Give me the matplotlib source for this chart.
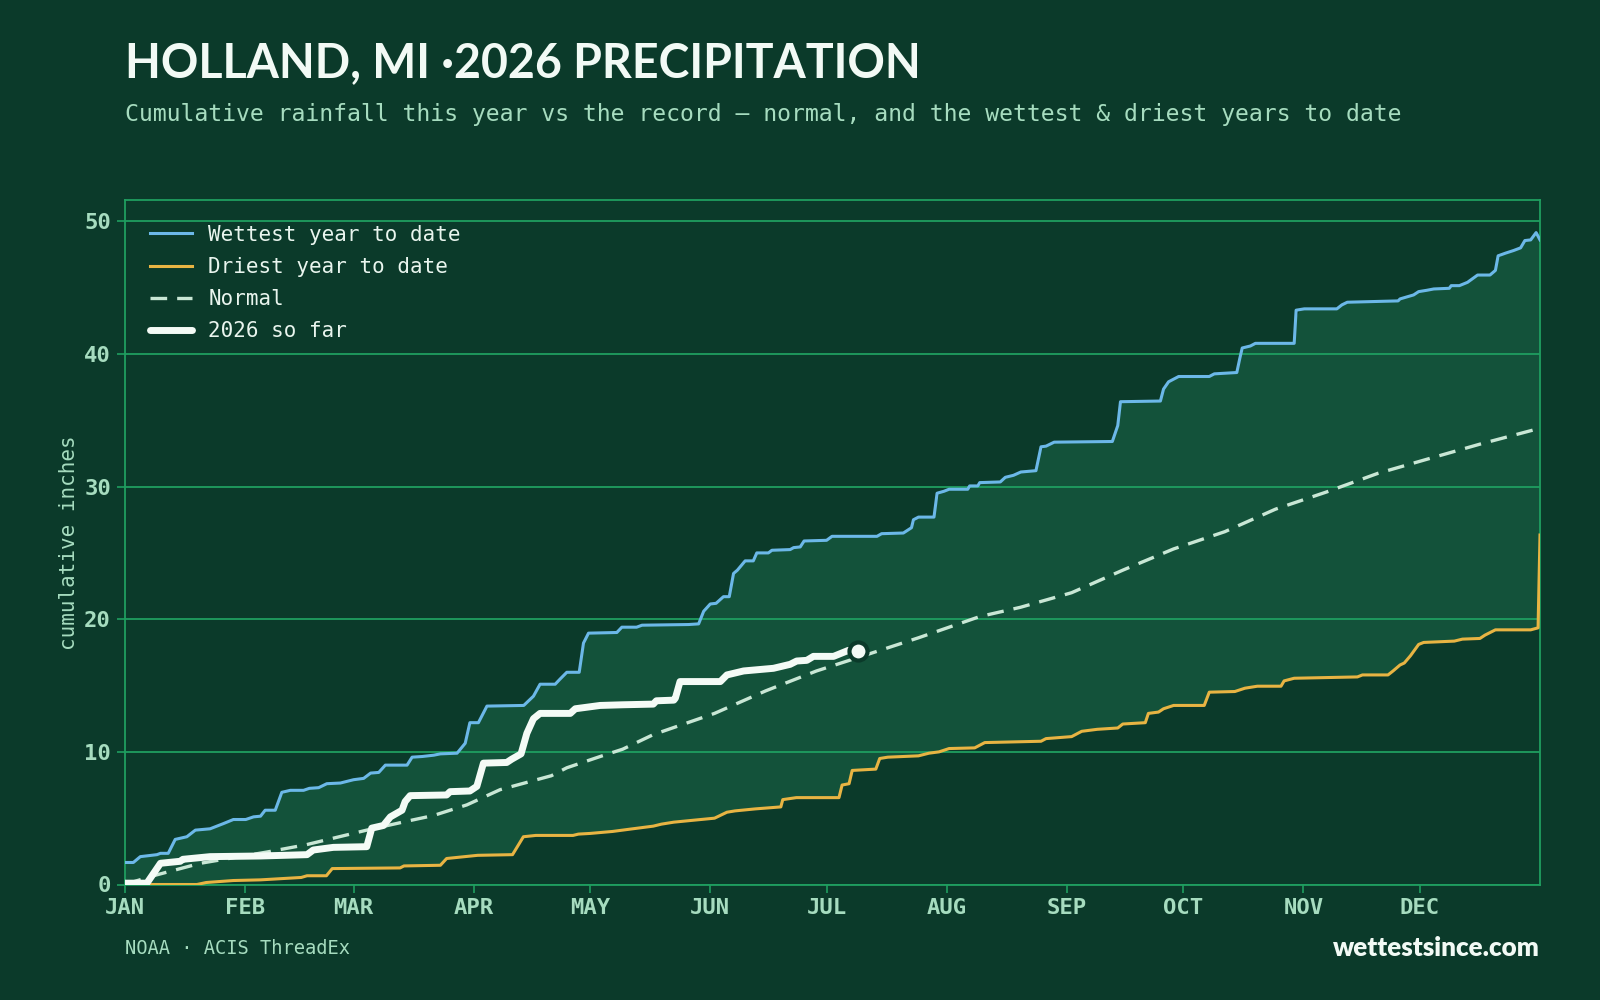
import numpy as np
import matplotlib
matplotlib.use("Agg")
import matplotlib.pyplot as plt

# day-of-year breakpoints, cumulative inches
wet_day = [0, 2.2, 4.0, 8.3, 9.2, 11.2, 13.0, 16.0, 18.2, 22.0, 25.5, 28.0, 31.2, 33.2, 35.0,
           36.2, 38.8, 40.5, 42.7, 46.1, 47.6, 50.0, 52.1, 55.6, 59.0, 61.6, 63.4, 65.5, 67.2,
           72.8, 74.1, 76.7, 79.7, 81.4, 85.7, 87.8, 89.0, 91.2, 93.4, 102.9, 105.4, 107.1,
           111.0, 112.3, 114.0, 117.2, 118.3, 119.6, 126.9, 128.2, 132.0, 133.4, 145.4, 148.0,
           149.3, 151.0, 152.5, 154.4, 155.9, 157.0, 158.0, 160.0, 162.1, 163.0, 166.0, 166.9,
           171.6, 172.5, 174.2, 175.2, 181.0, 182.4, 194.0, 195.2, 200.8, 202.9, 203.4, 204.7,
           208.7, 209.5, 211.3, 212.6, 217.4, 217.9, 220.0, 220.5, 225.8, 227.1, 229.2, 231.1,
           235.0, 236.3, 237.6, 239.7, 254.7, 256.1, 256.8, 267.1, 267.9, 269.2, 270.5, 271.8,
           279.7, 281.0, 286.8, 287.6, 288.2, 290.3, 291.6, 301.6, 302.1, 304.2, 312.6, 313.9,
           315.3, 328.4, 328.9, 332.4, 333.7, 335.8, 337.6, 341.6, 342.1, 344.2, 346.3, 348.9,
           352.1, 353.5, 354.2, 356.1, 358.2, 360.0, 361.1, 362.6, 364.0, 365.0]
wet_val = [1.66, 1.66, 2.1, 2.25, 2.35, 2.35, 3.4, 3.6, 4.1, 4.2, 4.6, 4.9, 4.9, 5.1, 5.15,
           5.6, 5.6, 6.95, 7.1, 7.1, 7.25, 7.3, 7.6, 7.65, 7.9, 8.0, 8.4, 8.45, 9.0,
           9.0, 9.6, 9.65, 9.75, 9.85, 9.9, 10.65, 12.2, 12.2, 13.45, 13.5, 14.2, 15.1,
           15.1, 15.5, 16.0, 16.0, 18.2, 18.95, 19.0, 19.4, 19.4, 19.55, 19.6, 19.65,
           20.6, 21.15, 21.2, 21.7, 21.7, 23.45, 23.7, 24.4, 24.4, 25.0, 25.0, 25.2,
           25.25, 25.4, 25.45, 25.9, 25.95, 26.25, 26.25, 26.45, 26.5, 26.9, 27.5, 27.7,
           27.7, 29.5, 29.65, 29.8, 29.8, 30.05, 30.05, 30.3, 30.35, 30.7, 30.85, 31.1,
           31.2, 33.0, 33.05, 33.35, 33.4, 34.6, 36.4, 36.45, 37.35, 37.9, 38.1, 38.3,
           38.3, 38.5, 38.6, 39.7, 40.45, 40.6, 40.8, 40.8, 43.3, 43.4, 43.4, 43.7,
           43.9, 44.0, 44.15, 44.45, 44.7, 44.8, 44.9, 44.95, 45.15, 45.15, 45.4, 45.95,
           45.95, 46.3, 47.4, 47.6, 47.8, 48.0, 48.55, 48.6, 49.15, 48.6]

dry_day = [0, 18.6, 21, 28, 35, 45.5, 47, 52, 53.5, 71, 72, 81.4, 83, 91, 100, 102.8, 106,
           115.6, 117, 120, 125.8, 131, 136.3, 138.4, 141.6, 146.8, 152.1, 155.3, 157.4,
           162.6, 169.2, 169.7, 173.2, 184.2, 185, 186.8, 187.6, 193.7, 194.7, 196.8, 204.7,
           207.4, 210, 212.6, 219.2, 221.8, 236.3, 237.6, 244.2, 246.8, 250.8, 256.1, 257.4,
           263.2, 264, 266.6, 267.9, 270.5, 278.4, 279.7, 286.3, 288.9, 292.1, 298.2, 299,
           301.6, 317.9, 319.2, 325.8, 327.1, 328.9, 330, 331.6, 333.7, 335, 342.9, 345,
           349.5, 350.8, 353.5, 362.6, 364.5, 365]
dry_val = [0, 0, 0.15, 0.3, 0.35, 0.53, 0.66, 0.66, 1.2, 1.25, 1.4, 1.45, 1.96, 2.2, 2.25,
           3.6, 3.7, 3.7, 3.8, 3.85, 4.0, 4.2, 4.4, 4.55, 4.7, 4.85, 5.0, 5.45, 5.55,
           5.7, 5.85, 6.4, 6.55, 6.55, 7.5, 7.6, 8.6, 8.7, 9.5, 9.6, 9.7,
           9.9, 10.0, 10.25, 10.3, 10.7, 10.8, 11.0, 11.15, 11.55, 11.7, 11.8, 12.1,
           12.2, 12.9, 13.0, 13.25, 13.5, 13.5, 14.5, 14.55, 14.8, 14.95, 14.95, 15.35,
           15.55, 15.65, 15.8, 15.8, 16.1, 16.55, 16.7, 17.25, 18.1, 18.25, 18.35, 18.5,
           18.55, 18.8, 19.2, 19.2, 19.35, 26.35]

norm_day = [0, 6.6, 19.5, 36.7, 46.8, 62.4, 73.2, 79.6, 88.2, 96.8, 110, 114, 122.6, 128.4,
            136.3, 152.1, 165.3, 178.4, 189, 204.7, 220.5, 231, 244.2, 257.4, 270.5, 283.7,
            296.8, 310, 323.2, 336.3, 349.5, 365]
norm_val = [0, 0.6, 1.6, 2.45, 3.0, 4.1, 4.8, 5.2, 6.0, 7.15, 8.2, 8.8, 9.65, 10.2,
            11.3, 12.9, 14.6, 16.1, 17.1, 18.6, 20.2, 20.9, 22.0, 23.7, 25.3, 26.6,
            28.3, 29.6, 31.0, 32.1, 33.2, 34.4]

now_day = [0, 5.7, 9.2, 14.3, 15.0, 22.0, 35.0, 47.0, 48.6, 53.8, 62.4, 63.7, 66.7, 68.5,
           71.5, 72.3, 73.6, 83.0, 83.9, 89.0, 90.8, 92.5, 98.5, 99.8, 102.2, 103.7, 105.4,
           107.1, 114.9, 116.2, 122.6, 128.4, 136.3, 137.1, 141.6, 142.0, 143.2, 153.6,
           155.3, 159.6, 167.3, 171.6, 173.3, 175.9, 177.6, 182.8, 186.6, 189.2]
now_val = [0.1, 0.1, 1.6, 1.75, 1.9, 2.1, 2.15, 2.25, 2.6, 2.8, 2.85, 4.25, 4.45, 5.1,
           5.6, 6.25, 6.7, 6.75, 7.0, 7.05, 7.4, 9.15, 9.2, 9.45, 9.85, 11.4, 12.5,
           12.9, 12.9, 13.25, 13.5, 13.55, 13.6, 13.85, 13.9, 14.05, 15.3, 15.3,
           15.8, 16.1, 16.3, 16.6, 16.85, 16.9, 17.2, 17.2, 17.65, 17.6]

month_days = [0, 31, 59, 90, 120, 151, 181, 212, 243, 273, 304, 334]
month_labels = ["JAN", "FEB", "MAR", "APR", "MAY", "JUN", "JUL", "AUG", "SEP", "OCT", "NOV", "DEC"]

BG = "#0b3a2a"
BAND = "#13523a"
GRID = "#1f9e60"
LIGHT = "#a6dcbf"

fig = plt.figure(figsize=(16, 10), dpi=100, facecolor=BG)
ax = fig.add_axes([0.078, 0.1155, 0.8845, 0.6845])
ax.set_facecolor(BG)

# band between wettest and driest
grid_x = np.arange(0, 366)
ax.fill_between(grid_x, np.interp(grid_x, dry_day, dry_val), np.interp(grid_x, wet_day, wet_val),
                color=BAND, lw=0, zorder=1)

ax.plot(wet_day, wet_val, color="#6cb8e8", lw=2.2, label="Wettest year to date", zorder=3)
ax.plot(dry_day, dry_val, color="#e8b443", lw=2.2, label="Driest year to date", zorder=3)
ax.plot(norm_day, norm_val, color="#c9e7d5", lw=2.4, ls=(0, (5, 3)), label="Normal", zorder=3)
ax.plot(now_day, now_val, color="#f4fbf6", lw=5, solid_capstyle="round", label="2026 so far", zorder=4)
ax.plot(now_day[-1], now_val[-1], "o", ms=13, mfc="#f4fbf6", mec=BG, mew=3, zorder=5)

ax.set_xlim(0, 365)
ax.set_ylim(0, max(wet_val) * 1.05)
ax.set_yticks([0, 10, 20, 30, 40, 50])
ax.set_xticks(month_days)
ax.set_xticklabels(month_labels)
ax.grid(axis="y", color=GRID, lw=1.3, zorder=2)
ax.set_axisbelow(False)
for s in ax.spines.values():
    s.set_color(GRID)
    s.set_linewidth(1.3)
ax.tick_params(axis="both", colors=GRID, labelcolor=LIGHT, length=6, width=1.2, pad=4)
for lab in ax.get_xticklabels() + ax.get_yticklabels():
    lab.set_fontfamily("DejaVu Sans Mono")
    lab.set_fontweight("bold")
    lab.set_fontsize(16)
ax.set_ylabel("cumulative inches", family="DejaVu Sans Mono", fontsize=15, color=LIGHT, labelpad=4)

leg = ax.legend(loc="upper left", frameon=False, prop={"family": "DejaVu Sans Mono", "size": 15},
                handlelength=2.0, handletextpad=0.8, labelspacing=0.58, borderaxespad=0.0,
                bbox_to_anchor=(0.012, 0.976))
for t in leg.get_texts():
    t.set_color("#e9f5ee")

fig.text(0.078, 0.923, "HOLLAND, MI \u00b72026 PRECIPITATION", family="Lato", weight="bold",
         fontsize=33.5, color="#f2faf5", va="baseline")
fig.text(0.078, 0.879, "Cumulative rainfall this year vs the record \u2014 normal, and the wettest & driest years to date",
         family="DejaVu Sans Mono", fontsize=16.65, color=LIGHT, va="baseline")
fig.text(0.078, 0.052, "NOAA \u00b7 ACIS ThreadEx", family="DejaVu Sans Mono", fontsize=13.5,
         color=LIGHT, va="center")
fig.text(0.9625, 0.052, "wettestsince.com", family="Lato", weight="heavy", fontsize=18.7,
         color="#f2faf5", va="center", ha="right")

fig.savefig("out.png", dpi=100, facecolor=BG)
